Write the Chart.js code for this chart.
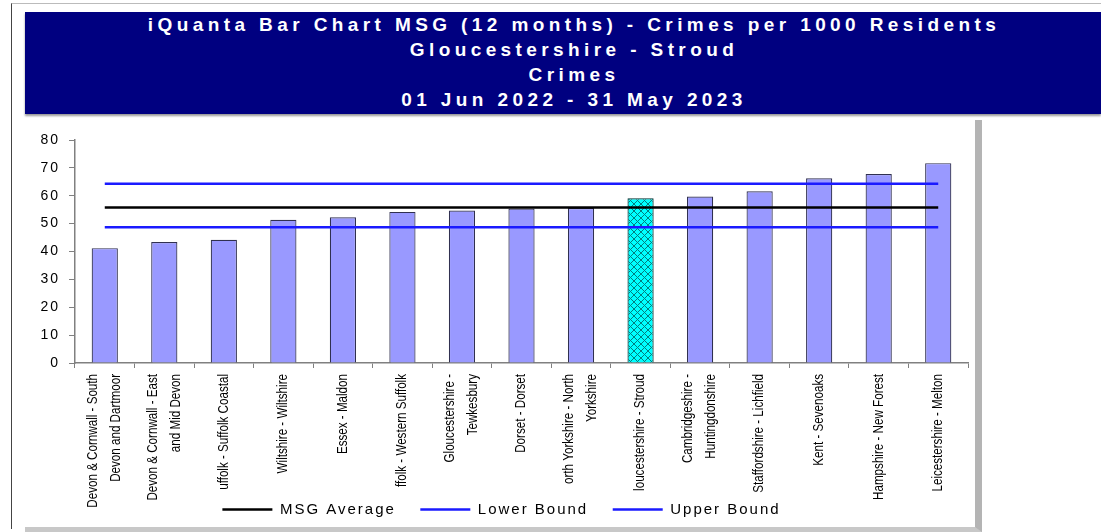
<!DOCTYPE html>
<html>
<head>
<meta charset="utf-8">
<script src="https://cdn.jsdelivr.net/npm/chart.js@4.4.0/dist/chart.umd.min.js"></script>
<style>
  body { margin: 0; background: #fff; width: 1101px; height: 532px; overflow: hidden; position: relative; font-family: Arial, "Liberation Sans", sans-serif; }
  #frame { position: absolute; left: 11px; top: 3px; width: 1090px; height: 525px; border-left: 1px solid #444; border-top: 1px solid #bbb; }
  #banner { position: absolute; left: 25px; top: 12px; width: 1054px; height: 102px; padding-left: 22px; background: #000080; color: #fff;
            font-weight: bold; font-size: 19px; letter-spacing: 4.4px; line-height: 25px; text-align: center; box-shadow: 0 2px 2px #999; }
  #panel { position: absolute; left: 25px; top: 120px; width: 950px; height: 407px; background: #fff;
           border-right: 7px solid #b4b4b4; border-bottom: 5px solid #c8c8c8; }
  #chart { display: block; }
</style>
</head>
<body>
<div id="frame"></div>
<div id="banner">
  <div>iQuanta Bar Chart MSG (12 months) - Crimes per 1000 Residents</div>
  <div>Gloucestershire - Stroud</div>
  <div>Crimes</div>
  <div>01 Jun 2022 - 31 May 2023</div>
</div>
<div id="panel"><canvas id="chart" width="950" height="407"></canvas></div>
<script>
const areas = [
  ['Devon & Cornwall - South', 'Devon and Dartmoor'],
  ['Devon & Cornwall - East', 'and Mid Devon'],
  'uffolk - Suffolk Coastal',
  'Wiltshire - Wiltshire',
  'Essex - Maldon',
  'ffolk - Western Suffolk',
  ['Gloucestershire -', 'Tewkesbury'],
  'Dorset - Dorset',
  ['orth Yorkshire - North', 'Yorkshire'],
  'loucestershire - Stroud',
  ['Cambridgeshire -', 'Huntingdonshire'],
  'Staffordshire - Lichfield',
  'Kent - Sevenoaks',
  'Hampshire - New Forest',
  'Leicestershire - Melton'
];
const crimeRates = [41.2, 43.4, 44.2, 51.4, 52.3, 54.2, 54.7, 55.4, 55.6, 59.1, 59.7, 61.6, 66.3, 67.8, 71.7];
const highlightIndex = 9;
const msgAverage = 55.8;
const lowerBound = 48.7;
const upperBound = 64.3;
const yTicks = [0, 10, 20, 30, 40, 50, 60, 70, 80];

function crossHatch() {
  const c = document.createElement('canvas');
  c.width = 7; c.height = 7;
  const g = c.getContext('2d');
  g.fillStyle = '#00ffff';
  g.fillRect(0, 0, 7, 7);
  g.strokeStyle = '#007f7f';
  g.lineWidth = 1;
  g.beginPath();
  g.moveTo(0, 0); g.lineTo(7, 7);
  g.moveTo(7, 0); g.lineTo(0, 7);
  g.stroke();
  return g.createPattern(c, 'repeat');
}

const barColors = crimeRates.map((v, i) => i === highlightIndex ? crossHatch() : '#9999ff');
const barBorders = crimeRates.map((v, i) => i === highlightIndex ? '#003333' : '#303050');

// wide letter spacing for legend and y ticks, like the original export
const spacedText = {
  id: 'spacedText',
  beforeLayout(chart) { chart.ctx.letterSpacing = '2px'; },
  beforeDraw(chart) { chart.ctx.letterSpacing = '2px'; }
};

// category labels drawn rotated and squeezed, like the narrow Excel font
const areaLabels = {
  id: 'areaLabels',
  afterDraw(chart) {
    const xs = chart.scales.x;
    const ctx = chart.ctx;
    ctx.save();
    ctx.letterSpacing = '0px';
    ctx.beginPath();
    ctx.rect(xs.left - 30, xs.top, xs.width + 60, 388 - xs.top);
    ctx.clip();
    ctx.fillStyle = '#000';
    ctx.font = '14px Arial, "Liberation Sans", sans-serif';
    ctx.textAlign = 'right';
    ctx.textBaseline = 'middle';
    chart.data.labels.forEach((lab, i) => {
      const lines = Array.isArray(lab) ? lab : [lab];
      const x = xs.getPixelForValue(i);
      lines.forEach((t, j) => {
        const off = (j - (lines.length - 1) / 2) * 23;
        ctx.save();
        ctx.translate(x + off, xs.top + 11);
        ctx.rotate(-Math.PI / 2);
        ctx.scale(0.83, 1);
        ctx.fillText(t, 0, 0);
        ctx.restore();
      });
    });
    ctx.restore();
  }
};

new Chart(document.getElementById('chart'), {
  data: {
    labels: areas,
    datasets: [
      {
        type: 'line', label: 'MSG Average', data: areas.map(() => msgAverage),
        borderColor: '#000000', backgroundColor: '#000000', borderWidth: 2.5, pointRadius: 0, order: 0
      },
      {
        type: 'line', label: 'Lower Bound', data: areas.map(() => lowerBound),
        borderColor: '#1a1aff', backgroundColor: '#1a1aff', borderWidth: 2.5, pointRadius: 0, order: 0
      },
      {
        type: 'line', label: 'Upper Bound', data: areas.map(() => upperBound),
        borderColor: '#1a1aff', backgroundColor: '#1a1aff', borderWidth: 2.5, pointRadius: 0, order: 0
      },
      {
        type: 'bar', label: 'Crimes', data: crimeRates,
        backgroundColor: barColors, borderColor: barBorders, borderWidth: 1.2,
        categoryPercentage: 0.44, barPercentage: 1, order: 1
      }
    ]
  },
  options: {
    responsive: false,
    animation: false,
    layout: { padding: { left: 10, right: 7, top: 20, bottom: 0 } },
    plugins: {
      title: { display: false },
      tooltip: { enabled: false },
      legend: {
        position: 'bottom',
        labels: {
          generateLabels: chart => Chart.defaults.plugins.legend.labels.generateLabels(chart)
            .filter(item => item.text !== 'Crimes')
            .map((item, i, all) => {
              if (i < all.length - 1) item.text += '\u00a0'.repeat(3);
              return item;
            }),
          usePointStyle: true,
          pointStyle: 'line',
          pointStyleWidth: 50,
          padding: 6,
          color: '#000',
          font: { family: 'Arial, "Liberation Sans", sans-serif', size: 15 }
        }
      }
    },
    scales: {
      y: {
        min: 0, max: 80,
        afterBuildTicks: s => { s.ticks = yTicks.map(v => ({ value: v })); },
        afterFit: s => { s.width = 40; },
        ticks: { color: '#000', padding: 9, font: { family: 'Arial, "Liberation Sans", sans-serif', size: 14 } },
        grid: { drawOnChartArea: false, tickLength: 6, color: '#808080' },
        border: { color: '#808080', width: 1.5 }
      },
      x: {
        afterFit: s => { s.height = 133; },
        ticks: { display: false },
        grid: { drawOnChartArea: false, offset: true, tickLength: 5, color: '#808080' },
        border: { color: '#808080', width: 1.5 }
      }
    }
  },
  plugins: [spacedText, areaLabels]
});
</script>
</body>
</html>
